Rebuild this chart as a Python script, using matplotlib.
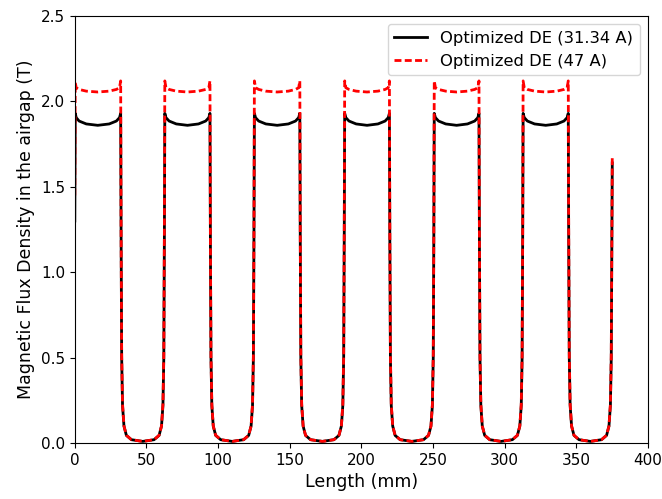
import matplotlib
matplotlib.use('Agg')
import matplotlib.pyplot as plt

# Length (mm) sample points
length_mm = [
    0.0, 0.3, 1.0, 3.0, 8.0, 16.0, 24.0, 29.0, 31.2, 32.0,
    32.3, 32.7, 33.3, 34.3, 36.0, 39.5, 47.4, 55.3, 58.8, 60.5, 61.5, 62.1, 62.5,
    62.8, 63.6, 65.8, 70.8, 78.6, 86.3, 91.3, 93.5, 94.3,
    94.6, 95.0, 95.6, 96.6, 98.3, 101.8, 109.8, 117.8, 121.3, 123.0, 124.0, 124.6, 125.0,
    125.3, 126.1, 128.3, 133.3, 141.2, 149.0, 154.0, 156.2, 157.0,
    157.3, 157.7, 158.3, 159.3, 161.0, 164.5, 172.7, 180.8, 184.3, 186.0, 187.0, 187.6, 188.0,
    188.3, 189.1, 191.3, 196.3, 203.9, 211.5, 216.5, 218.7, 219.5,
    219.8, 220.2, 220.8, 221.8, 223.5, 227.0, 235.2, 243.3, 246.8, 248.5, 249.5, 250.1, 250.5,
    250.8, 251.6, 253.8, 258.8, 266.4, 274.0, 279.0, 281.2, 282.0,
    282.3, 282.7, 283.3, 284.3, 286.0, 289.5, 297.4, 305.3, 308.8, 310.5, 311.5, 312.1, 312.5,
    312.8, 313.6, 315.8, 320.8, 328.6, 336.3, 341.3, 343.5, 344.3,
    344.6, 345.0, 345.6, 346.6, 348.3, 351.8, 359.7, 367.5, 371.0, 372.7, 373.7, 374.3, 374.7,
    375.0,
]

# Optimized DE (31.34 A)
b_low = [
    1.30, 1.93, 1.905, 1.885, 1.868, 1.86, 1.868, 1.885, 1.905, 1.93,
    1.20, 0.50, 0.22, 0.10, 0.045, 0.02, 0.01, 0.02, 0.045, 0.10, 0.22, 0.50, 1.20,
    1.93, 1.905, 1.885, 1.868, 1.86, 1.868, 1.885, 1.905, 1.93,
    1.20, 0.50, 0.22, 0.10, 0.045, 0.02, 0.01, 0.02, 0.045, 0.10, 0.22, 0.50, 1.20,
    1.93, 1.905, 1.885, 1.868, 1.86, 1.868, 1.885, 1.905, 1.93,
    1.20, 0.50, 0.22, 0.10, 0.045, 0.02, 0.01, 0.02, 0.045, 0.10, 0.22, 0.50, 1.20,
    1.93, 1.905, 1.885, 1.868, 1.86, 1.868, 1.885, 1.905, 1.93,
    1.20, 0.50, 0.22, 0.10, 0.045, 0.02, 0.01, 0.02, 0.045, 0.10, 0.22, 0.50, 1.20,
    1.93, 1.905, 1.885, 1.868, 1.86, 1.868, 1.885, 1.905, 1.93,
    1.20, 0.50, 0.22, 0.10, 0.045, 0.02, 0.01, 0.02, 0.045, 0.10, 0.22, 0.50, 1.20,
    1.93, 1.905, 1.885, 1.868, 1.86, 1.868, 1.885, 1.905, 1.93,
    1.20, 0.50, 0.22, 0.10, 0.045, 0.02, 0.01, 0.02, 0.045, 0.10, 0.22, 0.50, 1.10,
    1.64,
]

# Optimized DE (47 A)
b_high = [
    1.45, 2.11, 2.08, 2.07, 2.06, 2.055, 2.06, 2.07, 2.08, 2.12,
    1.25, 0.52, 0.23, 0.10, 0.046, 0.02, 0.01, 0.02, 0.046, 0.10, 0.23, 0.52, 1.25,
    2.12, 2.08, 2.07, 2.06, 2.055, 2.06, 2.07, 2.08, 2.12,
    1.25, 0.52, 0.23, 0.10, 0.046, 0.02, 0.01, 0.02, 0.046, 0.10, 0.23, 0.52, 1.25,
    2.12, 2.08, 2.07, 2.06, 2.055, 2.06, 2.07, 2.08, 2.12,
    1.25, 0.52, 0.23, 0.10, 0.046, 0.02, 0.01, 0.02, 0.046, 0.10, 0.23, 0.52, 1.25,
    2.12, 2.08, 2.07, 2.06, 2.055, 2.06, 2.07, 2.08, 2.12,
    1.25, 0.52, 0.23, 0.10, 0.046, 0.02, 0.01, 0.02, 0.046, 0.10, 0.23, 0.52, 1.25,
    2.12, 2.08, 2.07, 2.06, 2.055, 2.06, 2.07, 2.08, 2.12,
    1.25, 0.52, 0.23, 0.10, 0.046, 0.02, 0.01, 0.02, 0.046, 0.10, 0.23, 0.52, 1.25,
    2.12, 2.08, 2.07, 2.06, 2.055, 2.06, 2.07, 2.08, 2.12,
    1.25, 0.52, 0.23, 0.10, 0.046, 0.02, 0.01, 0.02, 0.046, 0.10, 0.23, 0.52, 1.15,
    1.67,
]

fig = plt.figure(figsize=(6.62, 4.99), dpi=100)
ax = fig.add_axes([0.113, 0.112, 0.866, 0.856])

ax.plot(length_mm, b_low, color='black', linewidth=2, label='Optimized DE (31.34 A)')
ax.plot(length_mm, b_high, color='red', linestyle='--', dashes=(2.5, 1.2),
        linewidth=2, label='Optimized DE (47 A)')

ax.set_xlim(0, 400)
ax.set_ylim(0, 2.5)
ax.set_xticks(range(0, 401, 50))
ax.set_yticks([0.0, 0.5, 1.0, 1.5, 2.0, 2.5])
ax.tick_params(labelsize=11)
ax.set_xlabel('Length (mm)', fontsize=12.5)
ax.set_ylabel('Magnetic Flux Density in the airgap (T)', fontsize=12.5)
ax.legend(loc='upper right', fontsize=11.8)

fig.savefig('out.png', dpi=100)
